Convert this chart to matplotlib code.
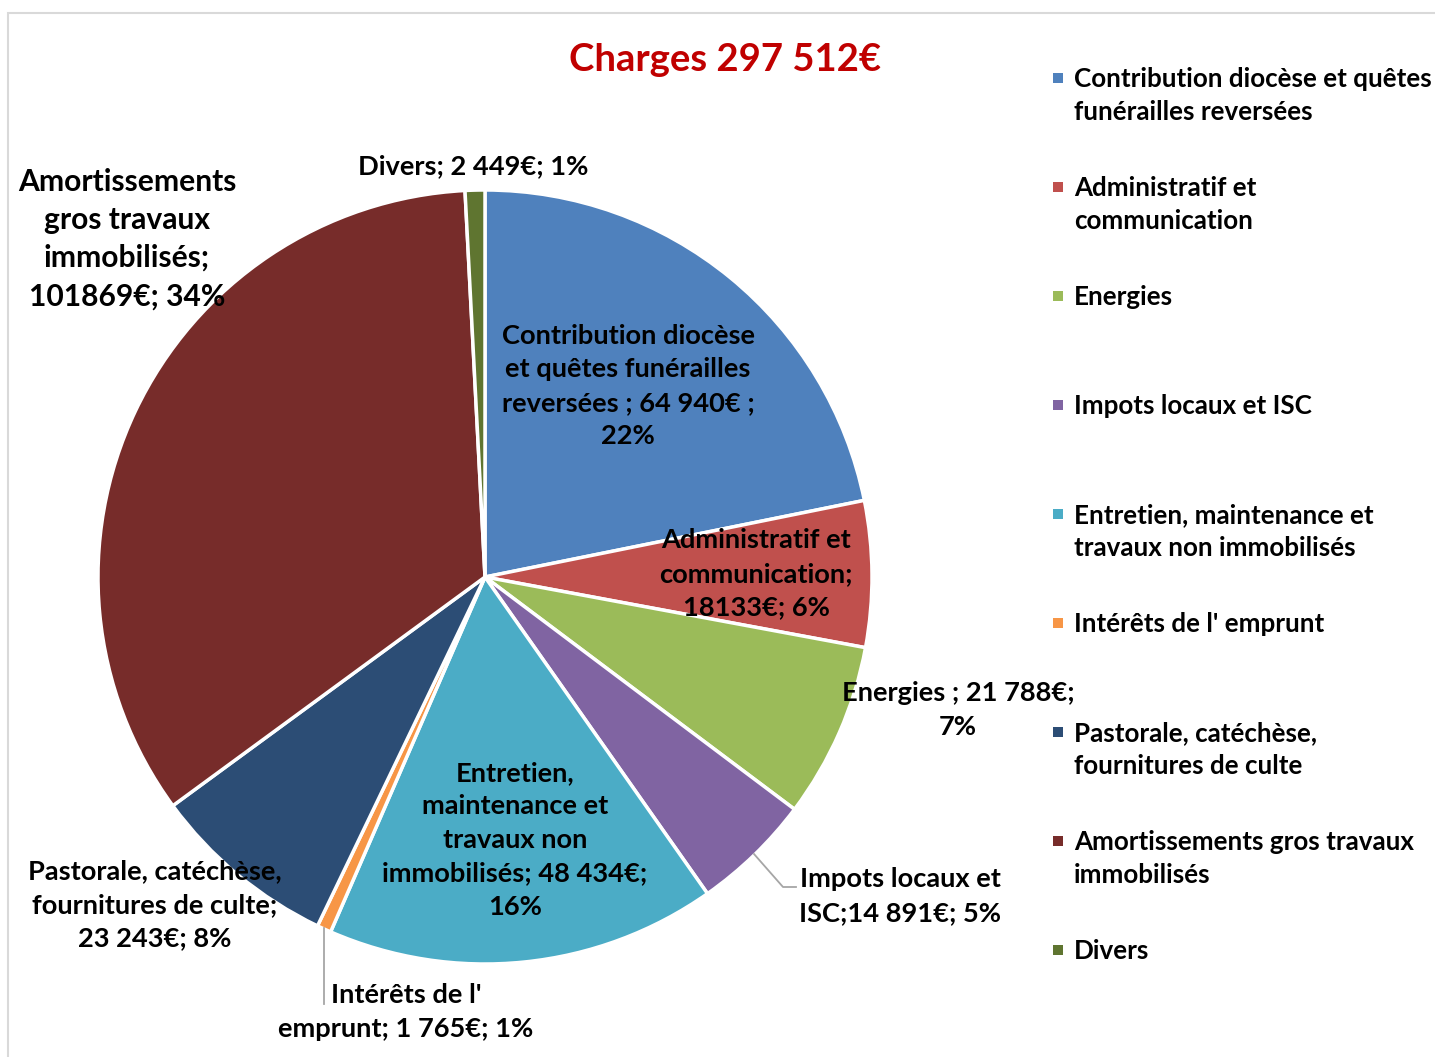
import matplotlib
matplotlib.use("Agg")
import matplotlib.pyplot as plt
from matplotlib.patches import Rectangle

# Data
categories = [
    "Contribution diocèse et quêtes\nfunérailles reversées",
    "Administratif et\ncommunication",
    "Energies",
    "Impots locaux et ISC",
    "Entretien, maintenance et\ntravaux non immobilisés",
    "Intérêts de l' emprunt",
    "Pastorale, catéchèse,\nfournitures de culte",
    "Amortissements gros travaux\nimmobilisés",
    "Divers",
]
values = [64940, 18133, 21788, 14891, 48434, 1765, 23243, 101869, 2449]
colors = ["#4F81BD", "#C0504D", "#9BBB59", "#8064A2", "#4BACC6",
          "#F79646", "#2C4D75", "#772C2A", "#5F7530"]
slice_labels = [
    "Contribution diocèse\net quêtes funérailles\nreversées ; 64 940€ ;\n22%",
    "Administratif et\ncommunication;\n18133€; 6%",
    "Energies ; 21 788€;\n7%",
    "Impots locaux et\nISC;14 891€; 5%",
    "Entretien,\nmaintenance et\ntravaux non\nimmobilisés; 48 434€;\n16%",
    "Intérêts de l'\nemprunt; 1 765€; 1%",
    "Pastorale, catéchèse,\nfournitures de culte;\n23 243€; 8%",
    "Amortissements\ngros travaux\nimmobilisés;\n101869€; 34%",
    "Divers; 2 449€; 1%",
]
title = "Charges 297 512€"

W, H = 1435, 1057
# label centres in pixel coords (x, y from top)
label_pos = [(628, 386), (756, 574), (958, 710), (900, 896), (515, 840),
             (406, 1012), (155, 905), (127, 239), (473, 166)]

plt.rcParams['font.family'] = ['Lato', 'DejaVu Sans']
plt.rcParams['font.weight'] = 'bold'

fig = plt.figure(figsize=(W / 100, H / 100), dpi=100)
ax = fig.add_axes([0, 0, 1, 1])


def fy(y):
    return H - y


# outer frame (only top/left visible)
ax.add_patch(Rectangle((8, fy(1100)), 1500, 1100 - 13, fill=False,
                       edgecolor='#D9D9D9', linewidth=1.5))

ax.pie(values, colors=colors, startangle=90, counterclock=False,
       center=(485, fy(577)), radius=387, frame=True,
       wedgeprops=dict(edgecolor='white', linewidth=2.5))
ax.set_xlim(0, W)
ax.set_ylim(0, H)
ax.set_aspect('equal')
ax.axis('off')

for i, (lab, (x, y)) in enumerate(zip(slice_labels, label_pos)):
    big = i == 7  # Amortissements label is drawn larger
    ax.text(x, fy(y), lab, ha='center', va='center',
            fontsize=21.6 if big else 19.6,
            fontweight='bold', color='black',
            linespacing=1.44 if big else 1.48)

# leader lines
ax.plot([754, 783, 796], [fy(854), fy(887), fy(887)], color='#A6A6A6', lw=1.3)
ax.plot([324, 324], [fy(928), fy(1004)], color='#A6A6A6', lw=1.3)

ax.text(725, fy(60), title, ha='center', va='center', fontsize=27.5,
        fontweight='bold', color='#C00000')

# legend
for i, (cat, col) in enumerate(zip(categories, colors)):
    y = 78 + i * 109
    ax.add_patch(Rectangle((1053, fy(y) - 5), 10, 10, facecolor=col,
                           edgecolor='none'))
    ax.text(1074, fy(y - 11), cat, ha='left', va='top', fontsize=18.7,
            fontweight='bold', color='black', linespacing=1.47)

fig.savefig("out.png", dpi=100)
